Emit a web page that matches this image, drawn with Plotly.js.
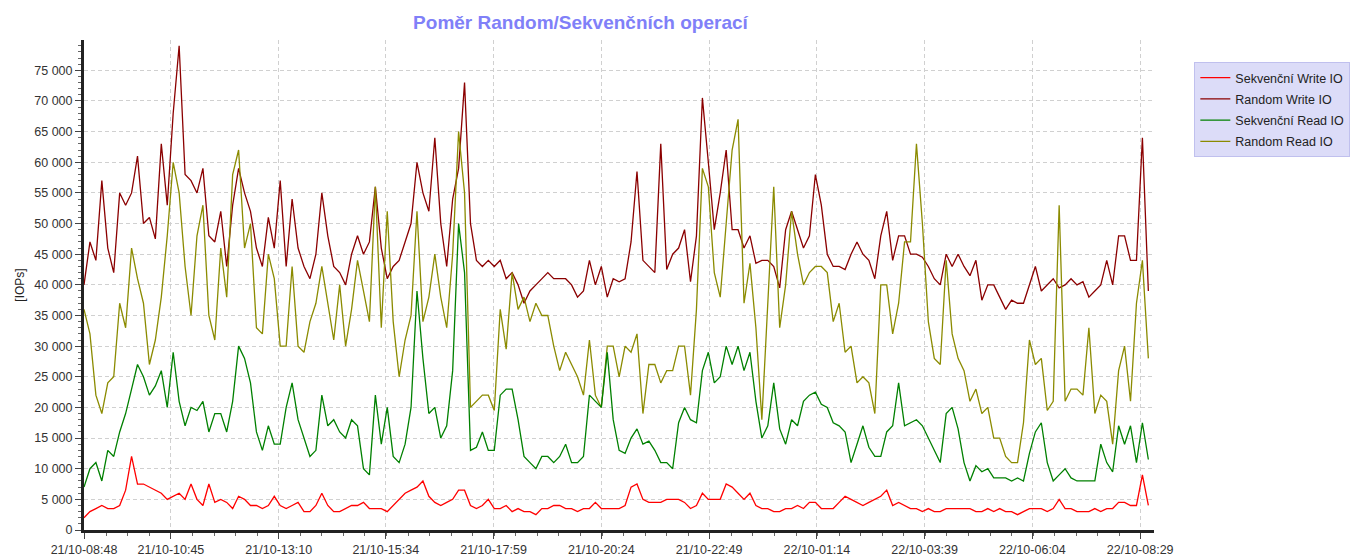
<!DOCTYPE html>
<html>
<head>
<meta charset="utf-8">
<script src="https://cdn.plot.ly/plotly-3.0.1.min.js"></script>
<style>html,body{margin:0;padding:0;background:#fff;}#chart{width:1362px;height:559px;}</style>
</head>
<body>
<div id="chart"></div>
<script>
// Sampling: first sample at 21/10 08:48, one sample every 8 minutes
const sampleStart = '2021-10-21T08:48:00Z';
const sampleStepMin = 8;

// Values in thousands of IOPs
const randomWrite = [
40,47,44,57,46,42,55,53,55,61, 50,51,47.5,63,53,68,79,58,57,55, 59,48,47,52,43,53,59,55,52,46, 43,
51,46,57,43,54,46,43,41,45,55, 48,43,42,40,45,48,45,47,56,46, 41,43,44,47,50,60,55,52,64,50,
43,54,59,73,50,44,43,44,43,44, 41,42,40,37,39,40,41,42,41,41, 41,40,38,39,44,40,43,38,41,40.5,
41,47,58.5,44,43,42,63,42.5,45,46, 49,40.5,48,70.5,60,49,55,62,49,49, 46,48,43.5,44,44,43,39.5,49,52,49,
46,48,58,53,45,43,43,42.5,45,47, 45,44,41,48,52,44,48,48,45,45, 44.5,43,41,40,45,43,45,43,41.5,
44,37.5,40,40,38,36,37.5,37,37,40, 43,39,40,41,39.5,40,41,40,40.5,38, 39,40,44,40,48,48,44,44,64,39
];
const randomRead = [
36,32,22,19,24,25,37,33,46,41, 37,27,31,38,48,60,55,43,35,48, 53,35,31,46,38,58,62,46,50,33, 32,
45,41,30,30,43,30,29,34,37,43, 37,31,40,30,36,44,39,34,56,33, 52,34,25,31,35,52,34,38,45,38,
33,45,65,55,20,21,22,22,19.5,36, 29.5,42,36,38,34,37,35,35,30,26, 29,27,25,22,31,22,20,30,30,25,
30,29,32,19,27,27,24,26,26,30, 30,22,36,59,56,42,38,50,62,67, 37,43.5,33,18,38,56,33,40,52,45,
40,42,43,43,42,34,37,29,30,24, 25,24,19,40,40,32,37,47,47,63, 50,34,28,27,44,32,28,26,21,
23,19,20,15,15,12,11,11,17.5,31, 27,28,19.5,21,53,21,23,23,22,33, 19,22,21,14,26,30,21,37,44,28
];
const seqRead = [
7,10,11,8,13,12,16,19,23,27, 25,22,23.5,26,20,29,21,17,20,19.5, 21,16,19,19,16,21,30,28,24,16, 13,
17,14,14,20,24,18,15,12,13,22, 17,18,16,15,18,17,10,9,22,14, 20,12,11,14,20,39,28,19,20,15,
17,26,50,42,13,13.5,16,13,13,22, 23,23,18,12,11,10,12,12,11,12, 14,11,11,12,22,21,20,29,18,13,
12.5,15,16.5,14,14.5,13,11,11,10,17.5, 20,18,17.5,26,29,24,25,30,27,30, 26,29,21,15,17,24,16.5,14,18,17,
21,22,22.5,20.5,20,17.5,17,16,11,14, 17,13.5,12,12,16,17,24,17,17.5,18, 17,15,13,11,19,20,16.5,11,8,
10.5,9.5,10,8.5,8.5,8.5,8,8.5,8,12.5, 16,17.5,11,8,9,10,8.5,8,8,8, 8,14,11,9.5,17,14,17,11,17.5,11.5
];
const seqWrite = [
2,3,3.5,4,3.5,3.5,4,6.5,12,7.5, 7.5,7,6.5,6,5,5.5,6,5,7.5,5, 4,7.5,4.5,5,4.5,3.5,5.5,5,4,4, 3.5,
4,5.5,4,3.5,4,4.5,3,3,4,6, 4,3,3,3.5,4,4,4.5,3.5,3.5,3.5, 3,4,5,6,6.5,7,8,5.5,4.5,4,
4.5,5,6.5,6.5,4,3.5,4,5,3.5,3.5, 4,3,3.5,3,3,2.5,3.5,3.5,4,4, 3.5,3.5,3,3.5,3.5,4.5,3.5,3.5,3.5,3.5,
4,7,7.5,5,4.5,4.5,4.5,5,5,5, 4.5,3.5,4,6,5,5,5,7.5,7,6, 5,6,4,3.5,3.5,3,3,3.5,3.5,4,
3.5,4.5,4.5,3.5,3.5,3.5,4.5,5.5,5,4.5, 4,4.5,5,5.5,6.5,4,4.5,4,3.5,3.5, 3,3.5,3,3,3.5,3.5,3.5,3.5,3.5,
3,3,3.5,3,3.5,3,3,2.5,3,3.5, 3.5,3.5,3,3.5,5,3.5,3.5,3,3,3, 3.5,3,3.5,3.5,4.5,4.5,4,4,9,4
];

const tickLabels = ['21/10-08:48','21/10-10:45','21/10-13:10','21/10-15:34','21/10-17:59','21/10-20:24',
  '21/10-22:49','22/10-01:14','22/10-03:39','22/10-06:04','22/10-08:29'];

const seriesNames = ['Sekvenční Write IO','Random Write IO','Sekvenční Read IO','Random Read IO'];
const seriesColors = ['#ff0000','#8b0000','#008000','#8b8b00'];

const MIN = 60000;
const t0 = Date.parse(sampleStart);
function times(n){ const a=[]; for(let i=0;i<n;i++) a.push(t0 + i*sampleStepMin*MIN); return a; }
function labelTime(s){
  const d = +s.slice(0,2), mo = +s.slice(3,5), h = +s.slice(6,8), m = +s.slice(9,11);
  return Date.UTC(2021, mo-1, d, h, m);
}
const tickVals = tickLabels.map(labelTime);
const k = v => v*1000;

function tr(name, color, vals, rank){
  return {type:'scatter', mode:'lines', name:name, legendgroup:'g'+rank, x:times(vals.length), y:vals.map(k),
    line:{color:color, width:1.3}, legendrank:rank, hoverinfo:'skip'};
}
const data = [
  tr(seriesNames[1], seriesColors[1], randomWrite, 2),
  tr(seriesNames[3], seriesColors[3], randomRead, 4),
  tr(seriesNames[2], seriesColors[2], seqRead, 3),
  tr(seriesNames[0], seriesColors[0], seqWrite, 1)
];

const font = 'Liberation Sans, Arial, sans-serif';
const layout = {
  width:1362, height:559,
  margin:{l:84, r:190, t:40, b:29},
  paper_bgcolor:'#ffffff', plot_bgcolor:'#ffffff',
  separators:', ',
  font:{family:font, size:12, color:'#333'},
  title:{text:'Poměr Random/Sekvenčních operací', font:{family:font, size:19, color:'#8080f8', weight:'bold'},
    x:0.464, xref:'paper', xanchor:'center', y:1-22/559, yref:'container', yanchor:'middle'},
  xaxis:{type:'date', range:[t0, t0+1439.6*MIN], tickmode:'array', tickvals:tickVals, ticktext:tickLabels,
    showline:true, linecolor:'#222', linewidth:3, ticks:'outside', ticklen:6, tickcolor:'#444', tickwidth:1,
    showgrid:true, gridcolor:'#d0d0d0', griddash:'4px,3px', gridwidth:1, zeroline:false,
    tickfont:{family:font, size:12.5, color:'#333'},
    minor:{tick0:labelTime('21/10-10:45'), dtick:29*MIN, ticks:'outside', ticklen:3, tickcolor:'#666', showgrid:false}},
  yaxis:{range:[0,79950], dtick:5000, tick0:0, tickformat:',d',
    showline:true, linecolor:'#222', linewidth:3, ticks:'outside', ticklen:6, tickcolor:'#444',
    showgrid:true, gridcolor:'#d0d0d0', griddash:'4px,3px', gridwidth:1, zeroline:false,
    tickfont:{family:font, size:12.5, color:'#333'},
    title:{text:'[IOPs]', font:{family:font, size:12, color:'#222'}, standoff:8},
    minor:{dtick:1000, ticks:'outside', ticklen:3, tickcolor:'#666', showgrid:false}},
  showlegend:true,
  legend:{x:1.0377, xanchor:'left', y:0.955, yanchor:'top', bgcolor:'#dcdcf8', bordercolor:'#c0c0ee', borderwidth:1,
    font:{family:font, size:12.5, color:'#222'}, traceorder:'grouped', tracegroupgap:2}
};
Plotly.newPlot('chart', data, layout, {staticPlot:true, displayModeBar:false});
</script>
</body>
</html>
